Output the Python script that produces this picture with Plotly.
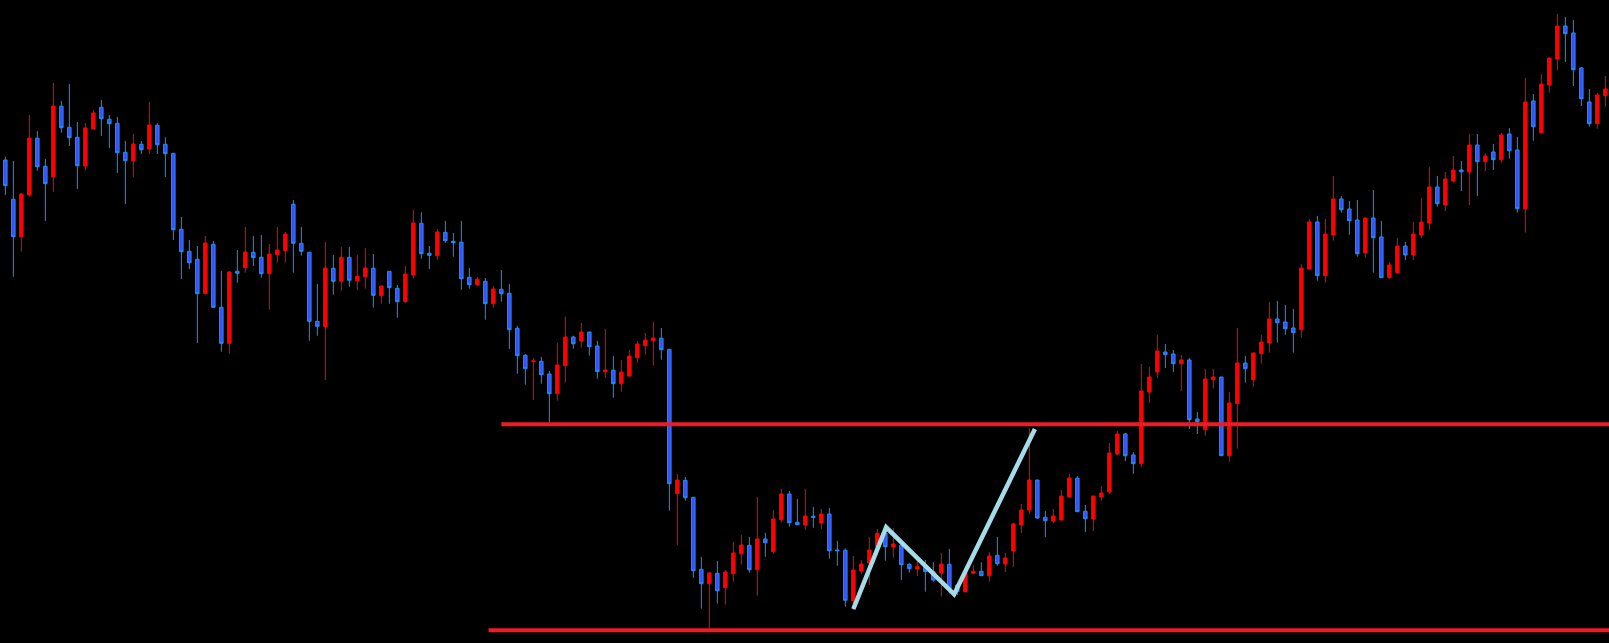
import plotly.graph_objects as go

# ---- candle data (price units, one candle per bar index) ----
opens = [483, 443.7, 406.3, 448, 504.7, 476.7, 466.3, 536.7, 515.7, 505.7,
         477, 514, 535.7, 523.7, 519.7, 490.7, 482.3, 498.7, 494, 517.7,
         498.7, 489.7, 413.7, 391.7, 383.7, 349.3, 398.7, 335.7, 299.7, 371.7,
         375.3, 390.7, 385.7, 369.3, 388.3, 392.3, 438.7, 399.7, 390.7, 321.7,
         316.3, 374.7, 361.7, 385.7, 362.3, 366.3, 374.7, 347.3, 371.7, 354.7,
         341.3, 368, 419.7, 389.7, 387.3, 410.7, 401.7, 400.7, 365.7, 358.3,
         361.7, 339.3, 353.7, 349.7, 314.7, 287.7, 281.3, 281.7, 269, 249.3,
         277.3, 306, 302, 311, 297, 271.3, 272.7, 259.3, 267, 285.3,
         297.3, 302.3, 304.7, 293.7, 149.3, 162.7, 145.7, 73.7, 59.3, 69.7,
         55.3, 69.3, 89.3, 97.7, 73.3, 104, 91.3, 123.3, 149, 120.7,
         118, 126.7, 120, 129, 93, 92.7, 42.3, 72, 80.3, 96.3,
         109.7, 96, 97.7, 78.7, 74, 76.3, 71.3, 70, 78.7, 58,
         51.3, 69.7, 71.7, 67.3, 87.7, 79, 92, 118, 133, 163,
         125.7, 122, 123, 146, 164.7, 131.7, 124, 146, 151, 189,
         209, 188, 179.3, 251, 271, 291, 289, 279.3, 283, 224,
         213.3, 263.3, 266, 187.3, 239.3, 280, 263.3, 289.3, 300, 324,
         321, 315, 313.3, 374, 421, 367.3, 408, 444, 434, 423,
         390.3, 425, 406, 365.3, 370.3, 397, 388, 408, 420, 456,
         438, 462, 473, 471, 498, 481.3, 491, 483.3, 509, 493,
         434.3, 542, 510.3, 558, 584, 617, 610, 575, 541, 519.3,
         547.3]
highs = [486.3, 482, 449.7, 528, 512, 484, 560, 542, 559, 521,
         520, 533, 543, 528, 526, 502, 509, 502, 541, 520,
         505.7, 489.7, 426, 403, 397, 407, 402, 372, 372, 393,
         416, 407, 408, 399, 416, 411, 443, 416, 390.7, 359,
         401, 388, 396, 396, 388, 395, 389, 357, 371.7, 358,
         377, 433, 430.7, 397, 414, 422, 410, 422, 375, 366,
         365, 357, 373, 359, 317, 289, 285, 286, 272, 300,
         326.3, 307.3, 320, 311, 302, 314, 287, 283, 293, 302,
         310, 321, 315, 293.7, 169, 166, 145.7, 86, 71, 82,
         73, 101, 108, 106, 146, 110, 133, 154, 152, 144,
         154, 136, 134, 135, 102, 94.7, 87, 83, 106, 114,
         115, 115, 103, 80, 87, 83, 80.7, 90, 94, 58.7,
         75, 78, 80.7, 91, 106, 90, 120, 139, 215, 163,
         132, 134, 153, 169, 167, 138, 147, 157, 200, 212,
         210, 191, 279, 276, 308, 299, 293, 288, 285, 231,
         274, 274, 266, 251, 315, 287, 290, 308, 341, 342,
         338, 334, 379, 424, 427, 424, 467, 447, 442, 443,
         425, 453, 422, 381, 405, 401, 421, 445, 476, 467,
         471, 487, 482, 509, 509, 490, 499, 510, 515, 506,
         565, 549, 569, 585, 629, 626, 623, 576, 554, 550,
         567]
lows = [448, 366.3, 391.3, 446.3, 472.3, 422, 451.3, 510.3, 497, 454,
        472.3, 514, 507, 495, 470, 439, 466, 489, 489, 489,
        466, 403, 364, 374, 300, 349.3, 335.7, 291.3, 289.3, 360.3,
        370.3, 377, 365.3, 333.3, 380.3, 380.3, 370.3, 387.3, 302.3, 307.3,
        263, 348.3, 352.3, 356.3, 353, 354.3, 335.3, 339.3, 339.3, 325.3,
        340.3, 364.3, 384.3, 374, 383.3, 400.3, 386.3, 353.3, 354.3, 357.3,
        323.3, 335.3, 341.3, 294, 269.3, 258.3, 243, 259.3, 220.7, 242.3,
        260.3, 294.3, 295.3, 287.3, 264.3, 265.3, 245.3, 251.3, 266.3, 280.3,
        288.3, 277.3, 283.3, 132.3, 98, 142.3, 65.3, 34.3, 14.7, 39.3,
        38.3, 61.3, 78.3, 70.3, 47.3, 86.3, 89.3, 120.3, 116.3, 118.3,
        113.3, 115.3, 114, 84.3, 77.3, 36.3, 33, 69, 58, 88,
        82.3, 85.3, 63, 70.3, 67, 51.3, 61.3, 46.3, 49.7, 48,
        50.3, 69, 67.3, 61.3, 77.3, 71, 76, 110, 129, 124,
        106, 120, 123, 145, 131.3, 111, 112, 142, 149, 188,
        182, 169.3, 176, 240, 265, 275, 271, 252, 214, 209,
        207.3, 254.3, 187.3, 181.3, 194.3, 260.3, 256.3, 279.3, 290.3, 300.3,
        308.3, 290.3, 305.3, 374, 362.3, 360.3, 402.3, 430.3, 408.3, 386.3,
        385.3, 370.3, 365.3, 364.3, 370.3, 383, 383, 405, 413, 436.3,
        432, 460.3, 452, 438, 447, 472, 473, 480.3, 484.3, 430.3,
        410.3, 502.3, 510.3, 550.3, 573, 581, 557, 537, 516.3, 514.3,
        536.3]
closes = [457.3, 406.3, 449, 505, 476.3, 459.3, 537, 515.3, 505.3, 477.3,
          515, 530, 524.3, 519.3, 490.3, 482.3, 499, 493.3, 518, 498.3,
          489.3, 413.3, 391.3, 380.3, 349.3, 400, 335.7, 299.7, 371, 369.7,
          391, 385.3, 369.3, 389, 393, 409, 399.7, 391.7, 321.7, 316.7,
          375, 361.7, 385.7, 362.7, 366.7, 375, 347.7, 357, 355.3, 341.3,
          369, 420, 389.3, 387.7, 411, 402.3, 400.3, 364.3, 358.3, 363.7,
          339.3, 354, 349.3, 313.3, 287.3, 274.3, 282, 268.3, 249.3, 278,
          306, 299.3, 311, 296.3, 271.3, 273, 259.3, 271, 287, 299,
          303, 305, 293.3, 159.3, 163, 145.3, 72.3, 59.3, 70, 52.3,
          71, 90, 98, 73.3, 104, 100.3, 124, 149, 120.3, 118.3,
          127, 125.7, 129, 92.3, 92.3, 42.7, 73, 79, 93, 109.7,
          96.3, 99, 78.3, 74.3, 76.3, 71.3, 63, 79, 53.7, 51.3,
          69.7, 71.7, 67.3, 87, 79.3, 85, 119, 133, 163, 125,
          122.3, 127, 147, 165, 131.3, 124.3, 147, 150, 190, 209,
          187.3, 179.3, 252, 266, 292, 288.3, 279.3, 283, 223.3, 221.3,
          264, 266, 187.3, 240, 280, 274.3, 290, 301, 324, 320.3,
          314.3, 310.3, 375, 421, 367.3, 409, 444, 433.3, 422.3, 389.3,
          425, 405.3, 365.3, 378, 397, 388, 409, 421, 456, 439.3,
          464, 473, 471.3, 498, 481.3, 487, 483.3, 508, 492.3, 434.3,
          541, 516.3, 559, 585, 617, 609.3, 573.3, 544.3, 519.3, 548,
          554]
bar_index = list(range(len(opens)))

# ---- drawn objects (bar index / price units) ----
level_prices = [218.7, 12.7]
level_start_index = [62.0, 60.4]
zigzag_index = [106.0, 110.1, 118.6, 128.7]
zigzag_price = [34, 115.7, 48.7, 214]

UP_RED = "#ff0000"
DOWN_FILL = "#3a4fff"
DOWN_LINE = "#1e8fff"
LEVEL_RED = "#ed1c24"
ZIGZAG = "#a6dbe8"

fig = go.Figure()
fig.add_trace(go.Candlestick(
    x=bar_index, open=opens, high=highs, low=lows, close=closes,
    increasing=dict(line=dict(color=UP_RED, width=1), fillcolor=UP_RED),
    decreasing=dict(line=dict(color=DOWN_LINE, width=1), fillcolor=DOWN_FILL),
    whiskerwidth=0, showlegend=False, hoverinfo="skip",
))

last = bar_index[-1]
x_end = last + 5
for p, s in zip(level_prices, level_start_index):
    fig.add_trace(go.Scatter(x=[s, x_end], y=[p, p], mode="lines",
                             line=dict(color=LEVEL_RED, width=4),
                             showlegend=False, hoverinfo="skip"))

fig.add_trace(go.Scatter(x=zigzag_index, y=zigzag_price, mode="lines",
                         line=dict(color=ZIGZAG, width=4.5),
                         showlegend=False, hoverinfo="skip"))

fig.update_layout(
    width=1609, height=643,
    margin=dict(l=0, r=0, t=0, b=0),
    paper_bgcolor="#000000", plot_bgcolor="#000000",
    boxgap=0.38,
    xaxis=dict(range=[-0.667, 200.458], visible=False, showgrid=False,
               zeroline=False, rangeslider=dict(visible=False)),
    yaxis=dict(range=[0, 643], visible=False, showgrid=False, zeroline=False),
)

fig.write_html(
    "out.html", include_plotlyjs=True, full_html=True,
    config={"displayModeBar": False},
    post_script="document.body.style.margin='0';document.body.style.padding='0';"
                "document.body.style.background='#000';"
                "document.documentElement.style.background='#000';"
                "document.body.style.overflow='hidden';",
)
